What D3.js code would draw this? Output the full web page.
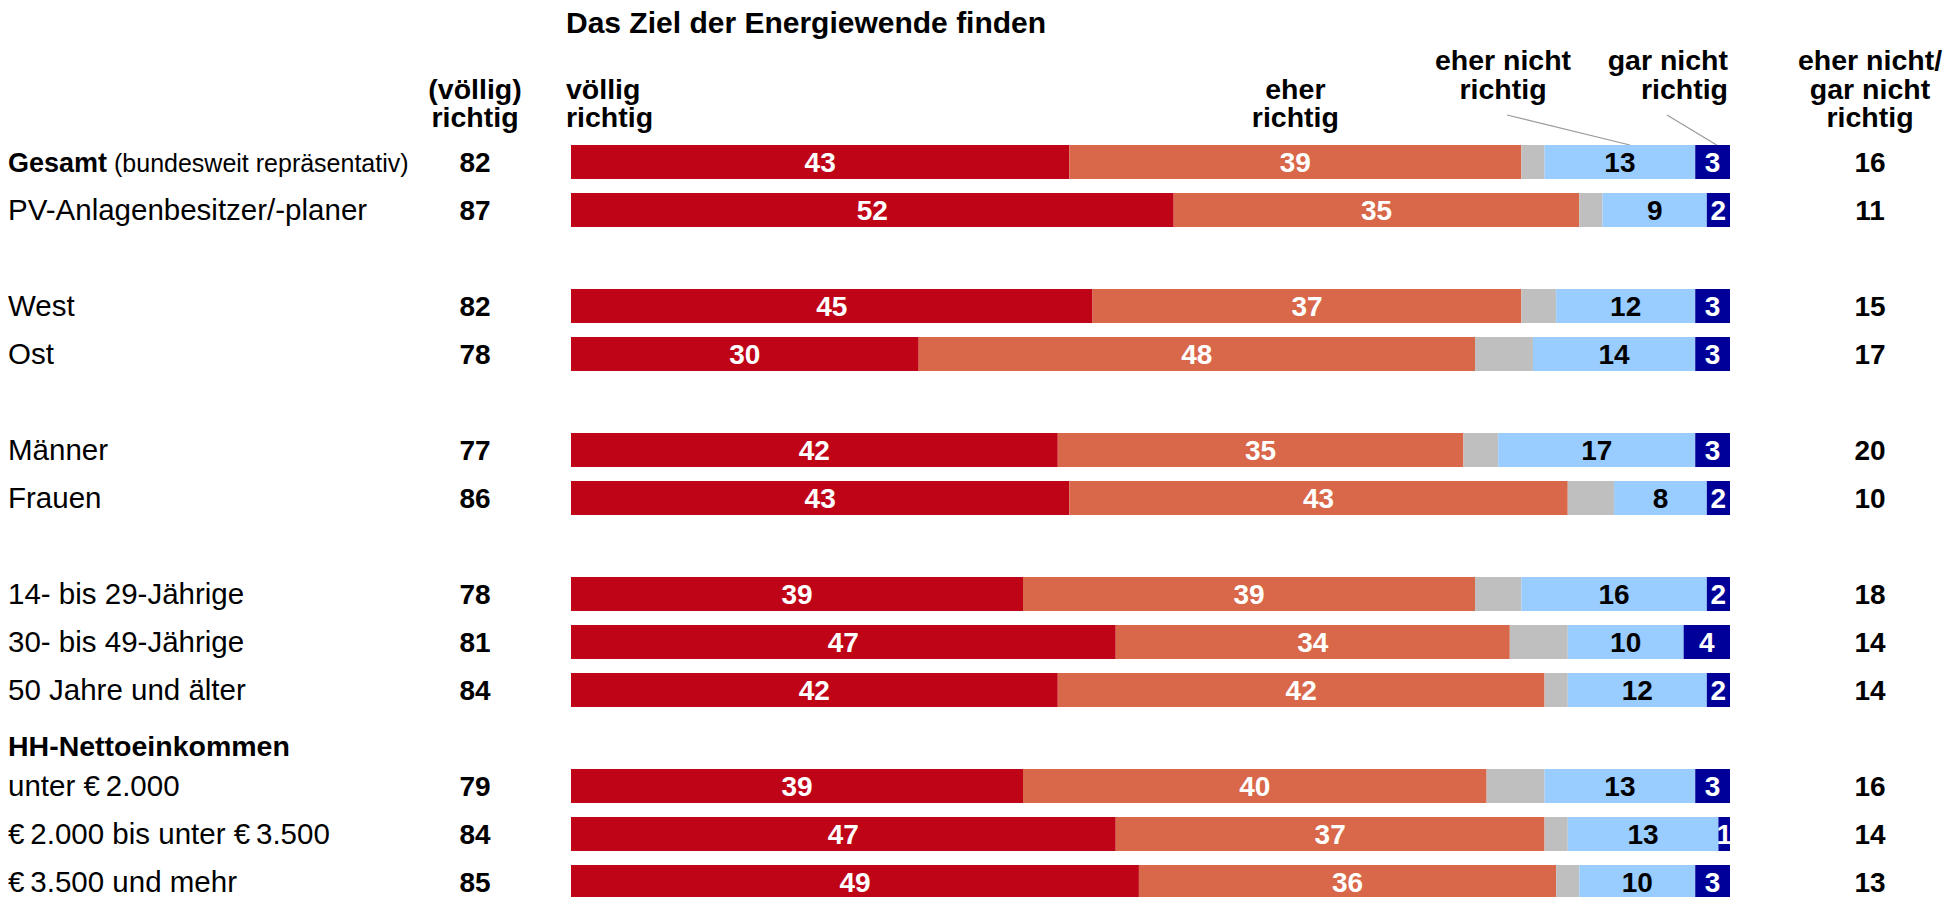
<!DOCTYPE html>
<html>
<head>
<meta charset="utf-8">
<script src="https://cdn.jsdelivr.net/npm/d3@7"></script>
<style>
    body { margin: 0; background: #fff; }
    svg { font-family: "Liberation Sans", Arial, sans-serif; }
    .bold { font-weight: bold; }
</style>
</head>
<body>
<script>
const WIDTH = 1950;
const HEIGHT = 897;

// rows, in groups; the last group has its own header line
const groups = [
    ['Gesamt', 'PV-Anlagenbesitzer/-planer'],
    ['West', 'Ost'],
    ['Männer', 'Frauen'],
    ['14- bis 29-Jährige', '30- bis 49-Jährige', '50 Jahre und älter'],
    ['unter €\u20092.000', '€\u20092.000 bis unter €\u20093.500', '€\u20093.500 und mehr']
];
const groupHeaders = [null, null, null, null, 'HH-Nettoeinkommen'];

const voellig = [43, 52, 45, 30, 42, 43, 39, 47, 42, 39, 47, 49];
const eher = [39, 35, 37, 48, 35, 43, 39, 34, 42, 40, 37, 36];
const weissNicht = [2, 2, 3, 5, 3, 4, 4, 5, 2, 5, 2, 2];
const eherNicht = [13, 9, 12, 14, 17, 8, 16, 10, 12, 13, 13, 10];
const garNicht = [3, 2, 3, 3, 3, 2, 2, 4, 2, 3, 1, 3];
const topTwo = [82, 87, 82, 78, 77, 86, 78, 81, 84, 79, 84, 85];
const bottomTwo = [16, 11, 15, 17, 20, 10, 18, 14, 14, 16, 14, 13];

const keys = ['voellig', 'eher', 'weissNicht', 'eherNicht', 'garNicht'];
const colors = {
    voellig: '#C00418',
    eher: '#D96749',
    weissNicht: '#BFBFBF',
    eherNicht: '#99CCFF',
    garNicht: '#000099'
};
const textColors = {voellig: '#fff', eher: '#fff', eherNicht: '#000', garNicht: '#fff'};

// build slot list: a blank slot between groups, header slot where present
var slots = [];
var rows = [];
var n = 0;
groups.forEach(function (g, gi) {
    if (gi > 0 && !groupHeaders[gi]) slots.push('gap' + gi);
    if (groupHeaders[gi]) slots.push('head' + gi);
    g.forEach(function (name) {
        slots.push('row' + n);
        rows.push({
            key: 'row' + n, name: name,
            voellig: voellig[n], eher: eher[n], weissNicht: weissNicht[n],
            eherNicht: eherNicht[n], garNicht: garNicht[n],
            top: topTwo[n], bottom: bottomTwo[n]
        });
        n++;
    });
});

var svg = d3.select('body').append('svg')
    .attr('width', WIDTH)
    .attr('height', HEIGHT);

var xScale = d3.scaleLinear()
    .domain([0, 100])
    .range([571, 1730]);

var yScale = d3.scaleBand()
    .domain(slots)
    .range([138, 138 + 48 * slots.length])
    .paddingInner(14 / 48)
    .paddingOuter(7 / 48);

var HEAD_FS = 28.5;  // column headers
var NUM_FS = 28;     // bold numbers
var LABEL_FS = 29.5; // row labels

var midY = function (key) {
    return yScale(key) + yScale.bandwidth() / 2 + 10;
};

// title
svg.append('text')
    .attr('x', 566).attr('y', 33)
    .attr('class', 'bold')
    .style('font-size', '30px')
    .text('Das Ziel der Energiewende finden');

// column headers
var multiline = function (lines, x, lastBaseline, anchor) {
    var t = svg.append('text')
        .attr('class', 'bold')
        .attr('text-anchor', anchor)
        .style('font-size', HEAD_FS + 'px');
    lines.forEach(function (l, i) {
        t.append('tspan')
            .attr('x', x)
            .attr('y', lastBaseline - (lines.length - 1 - i) * 28.5)
            .text(l);
    });
};

var stack = d3.stack().keys(keys);
var series = stack(rows);
var first = series.map(function (s) { return s[0]; });

multiline(['(völlig)', 'richtig'], 475, 127, 'middle');
multiline(['völlig', 'richtig'], 566, 127, 'start');
multiline(['eher', 'richtig'], xScale((first[1][0] + first[1][1]) / 2), 127, 'middle');
multiline(['eher nicht', 'richtig'], 1503, 98.5, 'middle');
multiline(['gar nicht', 'richtig'], 1728, 98.5, 'end');
multiline(['eher nicht/', 'gar nicht', 'richtig'], 1870, 127, 'middle');

// leader lines to the first bar
var barTop = yScale('row0');
svg.append('line')
    .attr('x1', 1507).attr('y1', 115)
    .attr('x2', xScale((first[3][0] + first[3][1]) / 2) + 10).attr('y2', barTop)
    .attr('stroke', '#999').attr('stroke-width', 1.2);
svg.append('line')
    .attr('x1', 1667).attr('y1', 115)
    .attr('x2', xScale((first[4][0] + first[4][1]) / 2) + 4).attr('y2', barTop)
    .attr('stroke', '#999').attr('stroke-width', 1.2);

// bars
var layer = svg.selectAll('.layer')
    .data(series)
    .enter().append('g')
    .attr('class', 'layer')
    .attr('fill', function (d) { return colors[d.key]; });

layer.selectAll('rect')
    .data(function (d) { return d; })
    .enter().append('rect')
    .attr('x', function (d) { return xScale(d[0]); })
    .attr('y', function (d) { return yScale(d.data.key); })
    .attr('width', function (d) { return xScale(d[1]) - xScale(d[0]); })
    .attr('height', yScale.bandwidth());

// value labels inside segments (not for the grey part)
series.filter(function (s) { return s.key !== 'weissNicht'; }).forEach(function (s) {
    svg.append('g').selectAll('text')
        .data(s)
        .enter().append('text')
        .attr('class', 'bold')
        .attr('text-anchor', 'middle')
        .attr('x', function (d) { return xScale((d[0] + d[1]) / 2); })
        .attr('y', function (d) { return midY(d.data.key); })
        .attr('fill', textColors[s.key])
        .style('font-size', NUM_FS + 'px')
        .text(function (d) { return d[1] - d[0]; });
});

// row labels
var labels = svg.append('g').selectAll('text')
    .data(rows)
    .enter().append('text')
    .attr('x', 8)
    .attr('y', function (d) { return midY(d.key); })
    .style('font-size', LABEL_FS + 'px');

labels.each(function (d, i) {
    var t = d3.select(this);
    if (i === 0) {
        t.append('tspan').attr('class', 'bold').style('font-size', '27px').text(d.name);
        t.append('tspan').style('font-size', '25px').text(' (bundesweit repräsentativ)');
    } else {
        t.text(d.name);
    }
});

// group headers
groupHeaders.forEach(function (h, gi) {
    if (!h) return;
    svg.append('text')
        .attr('class', 'bold')
        .attr('x', 8)
        .attr('y', yScale('head' + gi) + yScale.bandwidth() / 2 + 18)
        .style('font-size', HEAD_FS + 'px')
        .text(h);
});

// totals left and right
svg.append('g').selectAll('text')
    .data(rows)
    .enter().append('text')
    .attr('class', 'bold')
    .attr('text-anchor', 'middle')
    .attr('x', 475)
    .attr('y', function (d) { return midY(d.key); })
    .style('font-size', NUM_FS + 'px')
    .text(function (d) { return d.top; });

svg.append('g').selectAll('text')
    .data(rows)
    .enter().append('text')
    .attr('class', 'bold')
    .attr('text-anchor', 'middle')
    .attr('x', 1870)
    .attr('y', function (d) { return midY(d.key); })
    .style('font-size', NUM_FS + 'px')
    .text(function (d) { return d.bottom; });
</script>
</body>
</html>
